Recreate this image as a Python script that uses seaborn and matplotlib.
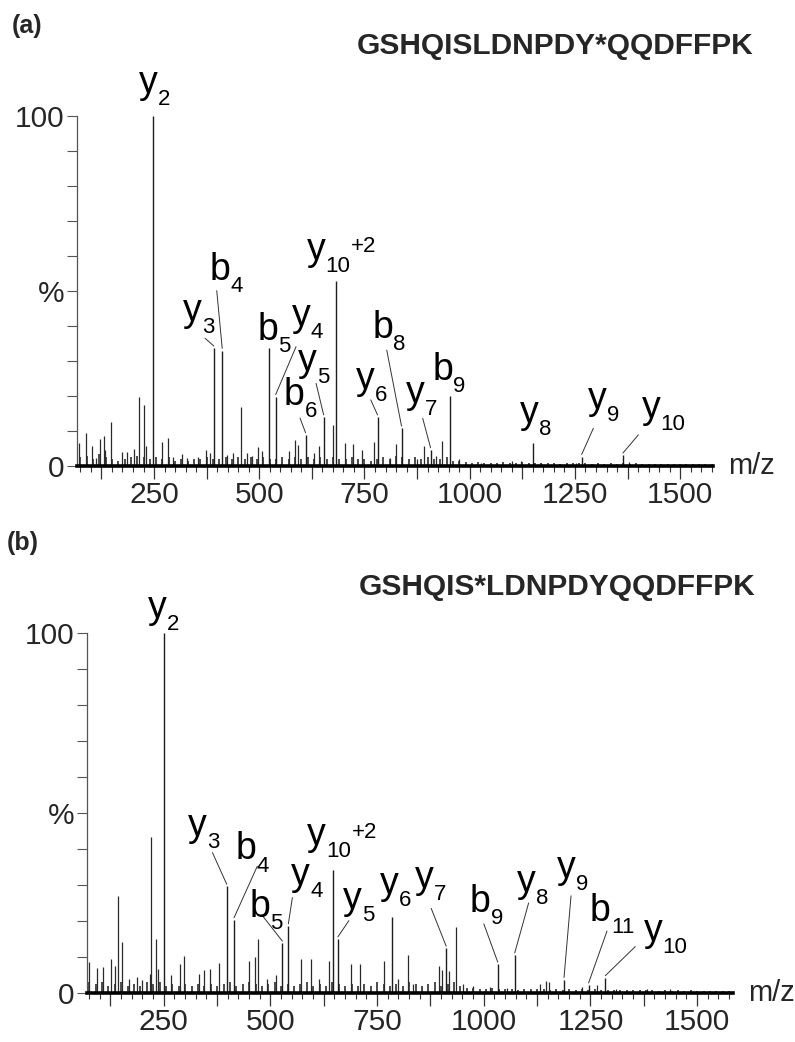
import matplotlib
matplotlib.use("Agg")
import matplotlib.pyplot as plt
from matplotlib.ticker import MultipleLocator, FuncFormatter
import numpy as np
import pandas as pd
import seaborn as sns

# ---------------- data ----------------
top_title = "GSHQISLDNPDY*QQDFFPK"
bot_title = "GSHQIS*LDNPDYQQDFFPK"
panel_tags = ["(a)", "(b)"]

x_tick_vals = [250, 500, 750, 1000, 1250, 1500]
x_tick_labels = ["250", "500", "750", "1000", "1250", "1500"]
y_tick_vals = [0, 50, 100]
y_tick_labels = ["0", "%", "100"]

# panel (a) labelled fragment ions
top_ion_names = ["y2", "y3", "b4", "b5", "y4", "b6", "y5", "y10+2", "y6",
                 "b8", "y7", "b9", "y8", "y9", "y10"]
top_ion_mz = [247, 392, 412, 524, 539, 610, 653, 683, 781,
              838, 907, 952, 1151, 1266, 1364]
top_ion_int = [100, 33.7, 33.0, 33.6, 19.8, 8.9, 14.0, 53.0, 14.0,
               10.8, 4.6, 20.0, 6.5, 2.7, 3.1]

# panel (a) other peaks
top_peak_mz = [71.5, 88, 103, 112, 121.5, 131, 134, 148.4, 174.6, 186.5, 202, 215,
               227, 230, 268, 282.5, 296, 316, 329, 355.5, 373, 383, 423, 438.7,
               456, 470.6, 482.5, 496.8, 506, 569.7, 584, 592, 631, 641, 675,
               704.6, 723, 744, 772, 810, 826, 875, 891, 919, 935, 974, 1026,
               1101, 1121, 1168.7, 1252, 1379]
top_peak_int = [6.6, 9.5, 5.6, 2.2, 7.6, 8.7, 4.7, 12.6, 3.9, 3.9, 5.0, 19.6,
                17.4, 5.6, 7.0, 7.9, 2.7, 3.4, 2.2, 2.7, 4.7, 3.7, 3.2, 3.7,
                16.8, 3.7, 2.9, 5.4, 4.2, 4.2, 7.3, 6.1, 3.7, 5.8, 11.7,
                6.6, 6.4, 4.7, 7.0, 2.4, 6.2, 1.9, 5.7, 2.9, 7.1, 1.9, 1.0,
                1.4, 1.4, 1.0, 1.0, 1.1]

# panel (b) labelled fragment ions
bot_ion_names = ["y2", "y3", "b4", "b5", "y4", "y10+2", "y5", "y6", "y7",
                 "b9", "y8", "y9", "b11", "y10"]
bot_ion_mz = [250.7, 397.5, 414.6, 527.9, 541.9, 647.3, 658, 785.4, 911.8,
              1032.6, 1072.4, 1188, 1245.6, 1284.7]
bot_ion_int = [100, 29.6, 20.3, 13.8, 18.6, 34.2, 15.0, 21.0, 12.4,
               8.0, 10.5, 3.7, 2.2, 4.2]

# panel (b) other peaks
bot_peak_mz = [75, 93, 108, 126, 136, 142, 153, 169, 188, 200, 217, 219.6, 232,
               237, 266, 287, 297.5, 332.6, 344, 358, 379, 449.6, 463.7, 471.6,
               492.6, 512, 570.6, 595.6, 613, 638, 687.6, 709, 765, 800, 821.7,
               835, 894, 902, 919, 935.6, 952, 975, 1015, 1054, 1132, 1145.5,
               1152, 1230, 1266, 1310, 1382, 1436]
bot_peak_int = [8.6, 7.0, 7.2, 9.5, 7.5, 27.0, 14.2, 4.0, 4.4, 3.5, 5.4, 43.4, 15.0,
                6.8, 5.0, 8.0, 10.3, 5.4, 6.3, 6.8, 8.3, 9.0, 10.0, 15.0,
                4.0, 5.0, 9.5, 9.5, 4.0, 9.0, 8.0, 8.0, 9.0, 4.0, 10.5,
                2.5, 7.6, 6.3, 6.0, 18.2, 2.4, 2.0, 1.8, 1.5, 2.4, 3.2,
                3.0, 1.8, 2.2, 1.2, 1.0, 1.0]

# baseline noise ("grass")
noise_mz = [75, 90, 105, 120, 135, 150, 165, 180, 195, 210, 225, 240, 255, 270,
            285, 300, 315, 330, 345, 360, 375, 390, 405, 420, 435, 450, 465, 480,
            495, 510, 525, 540, 555, 570, 585, 600, 615, 630, 645, 660, 675, 690,
            705, 720, 735, 750, 765, 780, 795, 810, 825, 840, 855, 870, 885, 900,
            915, 930, 945, 960, 975, 990, 1005, 1020, 1035, 1050, 1065, 1080,
            1095, 1110, 1125, 1140, 1155, 1170, 1185, 1200, 1215, 1230, 1245,
            1260, 1275, 1290, 1305, 1320, 1335, 1350, 1365, 1380, 1395, 1410,
            1425, 1440, 1455, 1470, 1485, 1500, 1515, 1530, 1545, 1560, 1575]
top_noise_int = [2.5, 3.0, 2.0, 3.5, 2.5, 2.0, 1.5, 2.0, 2.5, 3.0,
                 2.5, 2.0, 2.5, 2.0, 2.5, 1.5, 2.0, 1.5, 2.0, 2.0,
                 2.5, 2.0, 2.0, 2.5, 2.0, 2.5, 2.0, 2.5, 2.0, 2.5,
                 2.0, 2.0, 2.5, 2.0, 2.5, 2.0, 2.5, 2.0, 2.5, 2.0,
                 2.5, 2.0, 2.0, 2.5, 2.0, 2.0, 1.5, 2.0, 2.5, 2.0,
                 3.0, 2.5, 2.0, 2.5, 2.0, 2.5, 2.0, 2.0, 2.5, 1.5,
                 1.5, 1.2, 1.0, 1.2, 1.0, 0.8, 1.0, 1.2, 0.8, 1.0,
                 1.2, 0.8, 1.0, 0.8, 1.0, 0.8, 0.7, 1.0, 0.8, 1.0,
                 0.8, 0.7, 0.8, 0.7, 0.8, 0.7, 0.8, 0.7, 0.8, 0.6,
                 0.7, 0.6, 0.7, 0.6, 0.7, 0.6, 0.6, 0.5, 0.6, 0.5, 0.5]
bot_noise_int = [3.0, 2.5, 3.0, 2.0, 2.5, 3.0, 2.0, 2.5, 2.0, 3.0,
                 2.5, 3.0, 2.0, 2.5, 2.0, 2.5, 2.0, 2.5, 2.0, 2.5,
                 2.0, 2.5, 3.0, 2.0, 2.5, 3.0, 2.5, 2.0, 2.5, 3.0,
                 2.0, 2.5, 2.0, 2.5, 3.0, 2.0, 2.5, 2.0, 3.0, 2.5,
                 2.0, 2.5, 2.0, 2.5, 2.0, 3.0, 2.5, 2.0, 2.5, 2.0,
                 3.0, 2.5, 2.0, 2.5, 3.0, 2.0, 2.5, 3.0, 2.0, 1.5,
                 1.5, 1.2, 1.0, 1.5, 1.0, 1.2, 1.0, 0.8, 1.2, 1.0,
                 1.2, 1.0, 0.8, 1.0, 0.8, 1.0, 0.8, 1.0, 0.8, 1.0,
                 0.8, 0.7, 0.8, 0.7, 0.8, 0.7, 0.8, 0.7, 0.8, 0.6,
                 0.7, 0.6, 0.7, 0.6, 0.7, 0.6, 0.6, 0.5, 0.6, 0.5, 0.5]

# ---------------- layout (label placement, in data units) ----------------
top_layout = {
    "y2": ((236.5, 106.7), None),
    "y3": ((341.5, 41.4), (371.2, 36.5)),
    "b4": ((406.8, 53.1), (399.0, 50.1)),
    "b5": ((519.7, 36.0), None),
    "y4": ((598.8, 40.0), (587.4, 34.1)),
    "b6": ((582.6, 17.4), (596.9, 13.7)),
    "y5": ((614.7, 27.1), (635.0, 23.6)),
    "y10+2": ((634.4, 59.0), None),
    "y6": ((751.3, 22.0), (764.9, 18.9)),
    "b8": ((793.0, 36.6), (802.9, 33.1)),
    "y7": ((870.0, 18.1), (888.4, 13.6)),
    "b9": ((935.5, 24.6), None),
    "y8": ((1141.0, 12.4), None),
    "y9": ((1302.6, 16.2), (1293.8, 10.8)),
    "y10": ((1430.5, 13.8), (1400.7, 8.9)),
}
bot_layout = {
    "y2": ((235.3, 104.2), None),
    "y3": ((328.9, 43.6), (364.0, 39.0)),
    "b4": ((442.0, 37.1), (469.0, 35.2)),
    "b5": ((474.7, 21.1), (481.0, 21.5)),
    "y4": ((570.7, 30.0), (551.3, 26.5)),
    "y10+2": ((607.7, 41.2), None),
    "y5": ((691.7, 23.3), (683.8, 20.1)),
    "y6": ((777.4, 27.6), None),
    "y7": ((861.0, 29.1), (876.7, 23.5)),
    "b9": ((992.0, 22.6), (1000.0, 19.2)),
    "y8": ((1099.0, 28.1), (1105.0, 25.0)),
    "y9": ((1193.0, 32.0), (1204.4, 27.0)),
    "b11": ((1273.0, 20.1), (1288.7, 17.2)),
    "y10": ((1396.0, 14.5), (1355.0, 12.9)),
}

# ---------------- style ----------------
sns.set_style("ticks")
plt.rcParams["font.family"] = ["Liberation Sans", "DejaVu Sans"]

W, H = 795, 1042
fig = plt.figure(figsize=(W / 100, H / 100), dpi=100)

ax_top = fig.add_axes([77 / W, (H - 466) / H, 636 / W, 350 / H])
ax_bot = fig.add_axes([87 / W, (H - 993) / H, 646 / W, 360 / H])

PEAK_C = "#1c1c1c"


def ion_label(ax, name, x, y, fs=27, sfs=16):
    letter, rest = name[0], name[1:]
    sup = None
    if "+" in rest:
        sub, s2 = rest.split("+")
        sup = "+" + s2
    else:
        sub = rest
    t = ax.text(x, y, letter, fontsize=fs, ha="center", va="baseline",
                clip_on=False, color="black")
    s = ax.annotate(sub, xy=(1, 0), xycoords=t, xytext=(0.3, -3.0),
                    textcoords="offset points", fontsize=sfs,
                    ha="left", va="baseline", color="black")
    if sup:
        ax.annotate(sup, xy=(1, 0), xycoords=s, xytext=(0.3, 17.5),
                    textcoords="offset points", fontsize=sfs,
                    ha="left", va="baseline", color="black")


def draw_panel(ax, xlim, noise_int, peak_mz, peak_int, ion_names, ion_mz,
               ion_int, layout):
    # grass
    ax.vlines(noise_mz, 0, noise_int, color="#2e2e2e", lw=1.2)
    # minor peaks
    ax.vlines(peak_mz, 0, peak_int, color="#2a2a2a", lw=0.9)
    # labelled ions
    ax.vlines(ion_mz, 0, ion_int, color=PEAK_C, lw=1.0)

    df = pd.DataFrame({"name": ion_names, "mz": ion_mz, "int": ion_int})
    for _, r in df.iterrows():
        (lx, ly), lead = layout[r["name"]]
        ion_label(ax, r["name"], lx, ly)
        if lead is not None:
            ax.plot([lead[0], r["mz"]], [lead[1], r["int"] + 0.6],
                    color="#333333", lw=0.7, clip_on=False)

    ax.set_xlim(*xlim)
    ax.set_ylim(0, 100)
    sns.despine(ax=ax, top=True, right=True)
    ax.spines["left"].set_bounds(0, 100)
    ax.spines["left"].set_color("#555555")
    ax.spines["left"].set_linewidth(0.9)
    ax.spines["bottom"].set_color("black")
    ax.spines["bottom"].set_linewidth(2.6)

    # y ticks every 10, labels only at 0, 50 (%), 100
    ax.yaxis.set_major_locator(MultipleLocator(10))
    lab = dict(zip(y_tick_vals, y_tick_labels))
    ax.yaxis.set_major_formatter(
        FuncFormatter(lambda v, p: lab.get(int(round(v)), "")))
    ax.tick_params(axis="y", which="major", length=7, width=0.8,
                   color="#555555", labelsize=21.5, pad=2)

    # x ticks: long every 125, short every 25, labels at 250 multiples
    ax.xaxis.set_major_locator(MultipleLocator(125))
    ax.xaxis.set_minor_locator(MultipleLocator(25))
    xlab = dict(zip(x_tick_vals, x_tick_labels))
    ax.xaxis.set_major_formatter(
        FuncFormatter(lambda v, p: xlab.get(int(round(v)), "")))
    ax.tick_params(axis="x", which="major", length=9, width=0.9,
                   color="#333333", labelsize=21.5, pad=2)
    ax.tick_params(axis="x", which="minor", length=4, width=0.8,
                   color="#333333")

    ax.annotate("m/z", xy=(1, 0), xycoords="axes fraction", xytext=(11, 0),
                textcoords="offset points", fontsize=21, ha="left",
                va="center")


draw_panel(ax_top, (67, 1578), top_noise_int, top_peak_mz, top_peak_int,
           top_ion_names, top_ion_mz, top_ion_int, top_layout)
draw_panel(ax_bot, (70, 1584), bot_noise_int, bot_peak_mz, bot_peak_int,
           bot_ion_names, bot_ion_mz, bot_ion_int, bot_layout)

fig.text(12 / W, 1 - 26 / H, panel_tags[0], fontsize=18, fontweight="bold",
         ha="left", va="center")
fig.text(7 / W, 1 - 543 / H, panel_tags[1], fontsize=18, fontweight="bold",
         ha="left", va="center")
fig.text(753 / W, 1 - 46 / H, top_title, fontsize=21.5, fontweight="bold",
         ha="right", va="center")
fig.text(755 / W, 1 - 587 / H, bot_title, fontsize=21.5, fontweight="bold",
         ha="right", va="center")

fig.savefig("out.png", dpi=100, facecolor="white")
